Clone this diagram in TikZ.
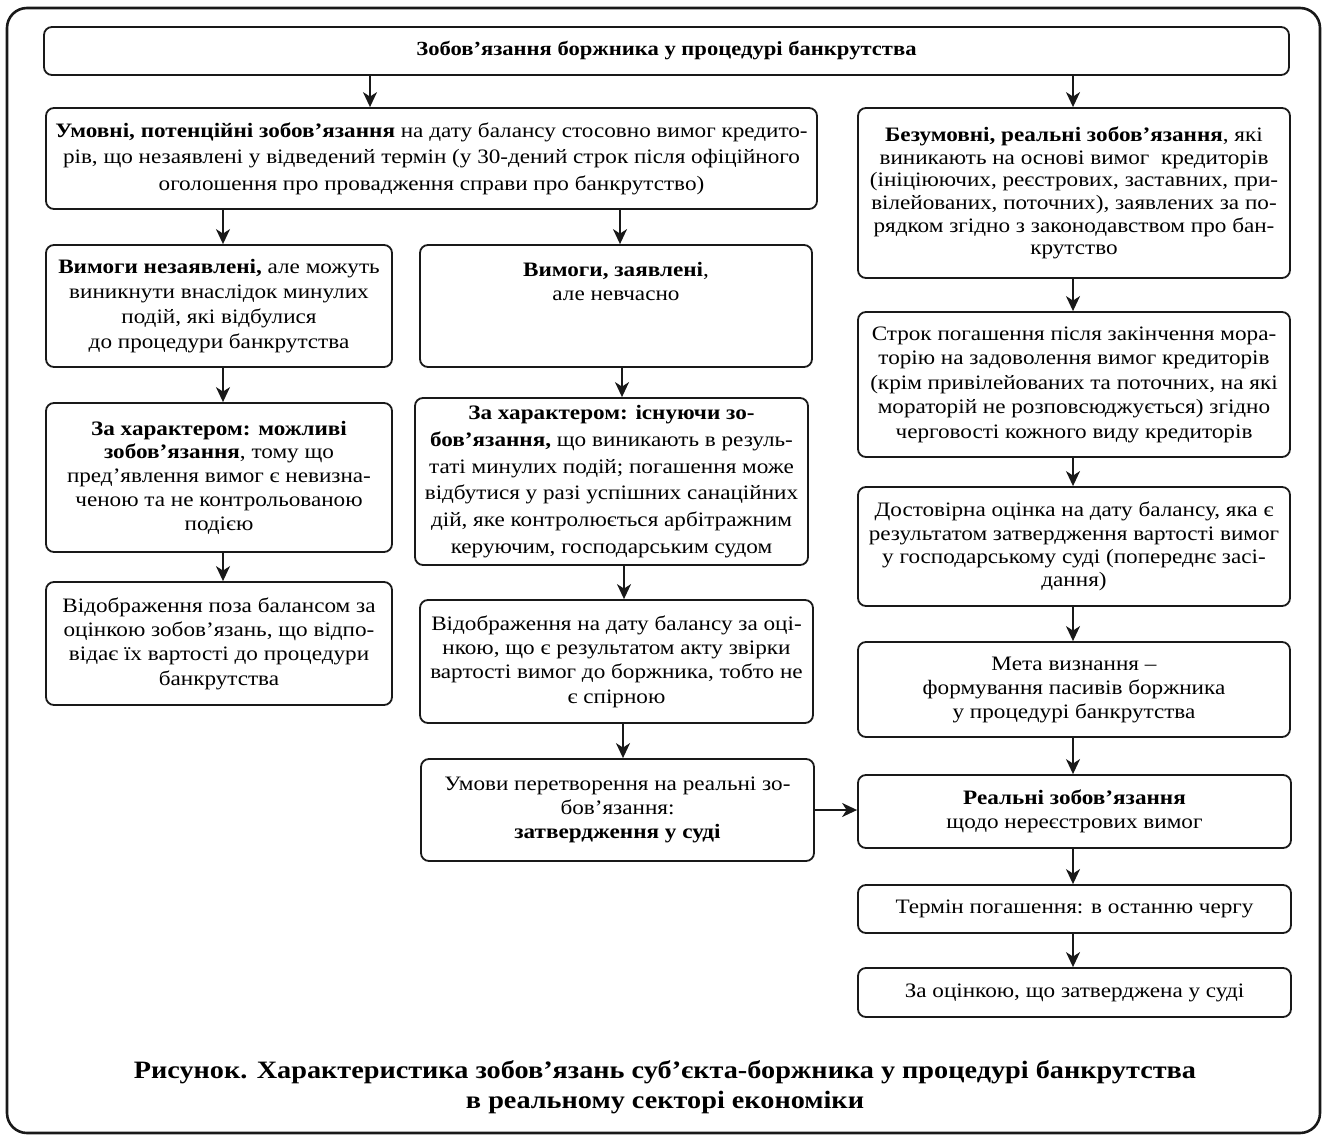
\documentclass[tikz,border=0pt]{standalone}
\usepackage{fontspec}
\setmainfont{Liberation Serif}[FakeStretch=1.13]
\usetikzlibrary{arrows.meta}
\tikzset{
  box/.style={draw=black!90, line width=1.8pt, rounded corners=8pt, inner sep=0pt, align=center,
    font=\fontsize{20.5}{24.5}\selectfont},
  arr/.style={draw=black!90, line width=1.8pt, -{Stealth[length=15pt,width=14pt,inset=4.5pt]}},
  caption/.style={inner sep=0pt, align=center, font=\fontsize{25}{31}\selectfont\bfseries}
}
\newcommand{\bxs}[1]{\fontsize{20.5}{#1}\selectfont}
\begin{document}
\begin{tikzpicture}[x=1pt,y=-1pt]
\useasboundingbox (0,0) rectangle (1325,1137);
\draw[line width=2.6pt, draw=black!90, rounded corners=20pt] (7,8) rectangle (1320,1133);

\node[box, minimum width=1245pt, minimum height=48pt, font=\fontsize{20}{24}\selectfont] (top) at (666.5,51)
  {\textbf{Зобов’язання боржника у процедурі банкрутства}};

\node[box, minimum width=771pt, minimum height=101pt, font=\bxs{26.5}] (umov) at (431.5,158.5)
  {\textbf{Умовні, потенційні зобов’язання} на дату балансу стосовно вимог кредито-\\
   рів, що незаявлені у відведений термін (у 30-дений строк після офіційного\\
   оголошення про провадження справи про банкрутство)};

\node[box, minimum width=432pt, minimum height=170pt, font=\bxs{22.7}] (bezum) at (1074,193)
  {\textbf{Безумовні, реальні зобов’язання}, які\\
   виникають на основі вимог\ \ кредиторів\\
   (ініціюючих, реєстрових, заставних, при-\\
   вілейованих, поточних), заявлених за по-\\
   рядком згідно з законодавством про бан-\\
   крутство};

\node[box, minimum width=346pt, minimum height=122pt, font=\bxs{25}] (vnez) at (219,306)
  {\textbf{Вимоги незаявлені,} але можуть\\
   виникнути внаслідок минулих\\
   подій, які відбулися\\
   до процедури банкрутства};

\node[box, minimum width=392pt, minimum height=122pt, font=\bxs{24.5}] (vzay) at (616,306)
  {\textbf{Вимоги, заявлені},\\
   але невчасно\\ \phantom{x}\\ \phantom{x}};

\node[box, minimum width=432pt, minimum height=145pt, font=\bxs{24.5}] (strok) at (1074,384.5)
  {Строк погашення після закінчення мора-\\
   торію на задоволення вимог кредиторів\\
   (крім привілейованих та поточних, на які\\
   мораторій не розповсюджується) згідно\\
   черговості кожного виду кредиторів};

\node[box, minimum width=346pt, minimum height=149pt, font=\bxs{23.7}] (mozh) at (219,477.5)
  {\textbf{За характером: можливі}\\
   \textbf{зобов’язання}, тому що\\
   пред’явлення вимог є невизна-\\
   ченою та не контрольованою\\
   подією};

\node[box, minimum width=393pt, minimum height=167pt, font=\bxs{26.7}] (isn) at (611.5,481.5)
  {\textbf{За характером: існуючи зо-}\\
   \textbf{бов’язання,} що виникають в резуль-\\
   таті минулих подій; погашення може\\
   відбутися у разі успішних санаційних\\
   дій, яке контролюється арбітражним\\
   керуючим, господарським судом};

\node[box, minimum width=432pt, minimum height=119pt, font=\bxs{23.3}] (dost) at (1074,546.5)
  {Достовірна оцінка на дату балансу, яка є\\
   результатом затвердження вартості вимог\\
   у господарському суді (попереднє засі-\\
   дання)};

\node[box, minimum width=346pt, minimum height=123pt, font=\bxs{24.4}] (vpoza) at (219,643.5)
  {Відображення поза балансом за\\
   оцінкою зобов’язань, що відпо-\\
   відає їх вартості до процедури\\
   банкрутства};

\node[box, minimum width=393pt, minimum height=123pt, font=\bxs{24.4}] (vdat) at (616.5,661.5)
  {Відображення на дату балансу за оці-\\
   нкою, що є результатом акту звірки\\
   вартості вимог до боржника, тобто не\\
   є спірною};

\node[box, minimum width=432pt, minimum height=95pt, font=\bxs{24}] (meta) at (1074,689.5)
  {Мета визнання –\\
   формування пасивів боржника\\
   у процедурі банкрутства};

\node[box, minimum width=393pt, minimum height=102pt, font=\bxs{24}] (umovy) at (617.5,810)
  {Умови перетворення на реальні зо-\\
   бов’язання:\\
   \textbf{затвердження у суді}};

\node[box, minimum width=433pt, minimum height=73pt, font=\bxs{24}] (real) at (1074.5,811.5)
  {\textbf{Реальні зобов’язання}\\
   щодо нереєстрових вимог};

\node[box, minimum width=433pt, minimum height=48pt] (term) at (1074.5,909)
  {Термін погашення: в останню чергу};

\node[box, minimum width=433pt, minimum height=49pt] (zaoc) at (1074.5,992.5)
  {За оцінкою, що затверджена у суді};

\node[caption] (cap1) at (665,1072)
  {Рисунок. Характеристика зобов’язань суб’єкта-боржника у процедурі банкрутства};
\node[caption] (cap2) at (665,1103)
  {в реальному секторі економіки};

% connectors
\draw[arr] (top.south -| 370,0) -- (umov.north -| 370,0);
\draw[arr] (top.south -| 1073,0) -- (bezum.north -| 1073,0);
\draw[arr] (umov.south -| 223,0) -- (vnez.north -| 223,0);
\draw[arr] (umov.south -| 620,0) -- (vzay.north -| 620,0);
\draw[arr] (vnez.south -| 223,0) -- (mozh.north -| 223,0);
\draw[arr] (mozh.south -| 223,0) -- (vpoza.north -| 223,0);
\draw[arr] (vzay.south -| 622,0) -- (isn.north -| 622,0);
\draw[arr] (isn.south -| 624,0) -- (vdat.north -| 624,0);
\draw[arr] (vdat.south -| 623,0) -- (umovy.north -| 623,0);
\draw[arr] (bezum.south -| 1073,0) -- (strok.north -| 1073,0);
\draw[arr] (strok.south -| 1073,0) -- (dost.north -| 1073,0);
\draw[arr] (dost.south -| 1073,0) -- (meta.north -| 1073,0);
\draw[arr] (meta.south -| 1073,0) -- (real.north -| 1073,0);
\draw[arr] (real.south -| 1073,0) -- (term.north -| 1073,0);
\draw[arr] (term.south -| 1073,0) -- (zaoc.north -| 1073,0);
\draw[arr] (umovy.east |- 0,810) -- (real.west |- 0,810);
\end{tikzpicture}
\end{document}
